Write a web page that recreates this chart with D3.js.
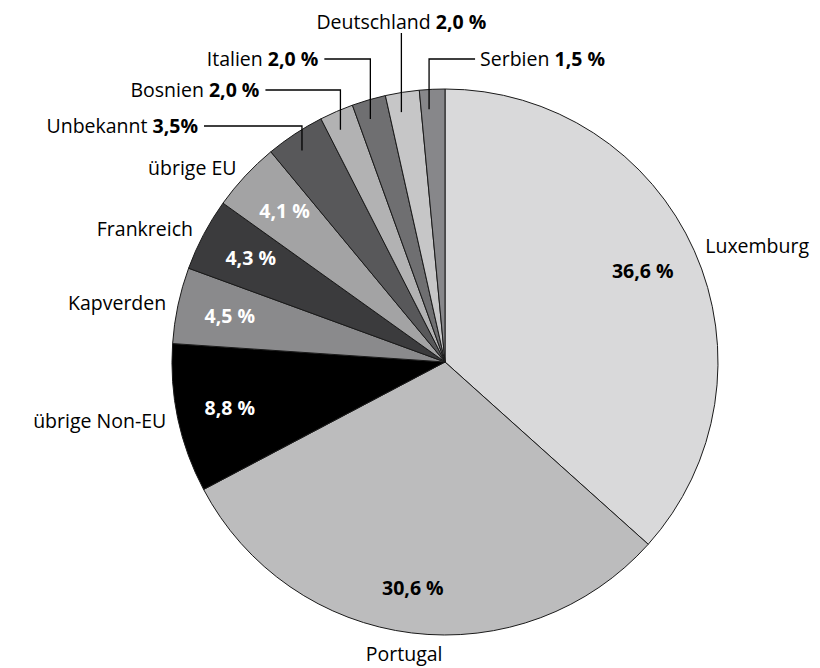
<!DOCTYPE html>
<html>
<head>
<meta charset="utf-8">
<script src="https://cdn.jsdelivr.net/npm/d3@7"></script>
<style>
  body { margin: 0; background: #fff; }
  text { font-family: "Open Sans", Lato, sans-serif; }
</style>
</head>
<body>
<div class="vis-pie"></div>
<script>
// data
const categories = ['Luxemburg', 'Portugal', 'übrige Non-EU', 'Kapverden', 'Frankreich',
    'übrige EU', 'Unbekannt', 'Bosnien', 'Italien', 'Deutschland', 'Serbien'];
const shares = [36.6, 30.6, 8.8, 4.5, 4.3, 4.1, 3.5, 2.0, 2.0, 2.0, 1.5];
const shareLabels = ['36,6 %', '30,6 %', '8,8 %', '4,5 %', '4,3 %', '4,1 %', '3,5%', '2,0 %', '2,0 %', '2,0 %', '1,5 %'];
const fills = ['#d9d9da', '#bcbcbd', '#000000', '#8a8a8c', '#3b3b3d', '#a3a3a4',
    '#58585a', '#b2b2b3', '#6f6f71', '#c6c6c7', '#87878a'];

const width = 820, height = 668;
const cx = 445, cy = 362, radius = 273;
const fontSize = '19.5px';

const svg = d3.select('.vis-pie')
    .append('svg')
    .attr('width', width)
    .attr('height', height);

const g = svg.append('g')
    .attr('transform', 'translate(' + cx + ',' + cy + ')');

const dataset = categories.map((c, i) => ({ label: c, value: shares[i], text: shareLabels[i], fill: fills[i] }));

const pie = d3.pie()
    .value(d => d.value)
    .sort(null);

const arc = d3.arc()
    .innerRadius(0)
    .outerRadius(radius);

const arcs = pie(dataset);

g.selectAll('path')
    .data(arcs)
    .enter()
    .append('path')
    .attr('d', arc)
    .attr('fill', d => d.data.fill)
    .attr('stroke', '#1a1a1a')
    .attr('stroke-width', 1);

const mid = d => (d.startAngle + d.endAngle) / 2;
const pt = (a, r) => [Math.sin(a) * r, -Math.cos(a) * r];
const isBottom = d => Math.abs(mid(d) - Math.PI) < 0.3;

// big slices: value inside, name outside
const big = arcs.slice(0, 6);
const inner = 222, outer = radius + 12;

g.selectAll('.val')
    .data(big)
    .enter().append('text')
    .attr('class', 'val')
    .attr('x', d => pt(mid(d), inner)[0] + (mid(d) < Math.PI + 0.3 ? -5 : 2))
    .attr('y', d => pt(mid(d), inner)[1] + (isBottom(d) ? 6 : 0))
    .attr('dy', '0.35em')
    .attr('text-anchor', 'middle')
    .style('font-size', fontSize)
    .style('font-weight', 'bold')
    .attr('fill', (d, i) => i < 2 ? '#000' : '#fff')
    .text(d => d.data.text);

g.selectAll('.name')
    .data(big)
    .enter().append('text')
    .attr('class', 'name')
    .attr('x', d => pt(mid(d), outer)[0] - (isBottom(d) ? 6 : 0))
    .attr('y', d => pt(mid(d), outer)[1])
    .attr('dy', d => isBottom(d) ? '0.85em' : '0.35em')
    .attr('text-anchor', d => isBottom(d) ? 'middle' : (mid(d) < Math.PI ? 'start' : 'end'))
    .style('font-size', fontSize)
    .text(d => d.data.label);

// small slices: callout lines
const callouts = [
    { elbow: -236, len: 98, side: 'left' },   // Unbekannt
    { elbow: -272, len: 75, side: 'left' },   // Bosnien
    { elbow: -303, len: 46, side: 'left' },   // Italien
    { elbow: -329, len: 0, side: 'top' },     // Deutschland
    { elbow: -303, len: 46, side: 'right' }   // Serbien
];
const small = arcs.slice(6).map((d, i) => Object.assign({}, d, callouts[i]));
const lineR = radius - 20;
const anchor = d => { const p = pt(mid(d), lineR); return [p[0] - 4, p[1]]; };

const cg = g.selectAll('.callout')
    .data(small)
    .enter().append('g')
    .attr('class', 'callout');

cg.append('polyline')
    .attr('fill', 'none')
    .attr('stroke', '#000')
    .attr('stroke-width', 1.3)
    .attr('points', d => {
        const p = anchor(d);
        const dir = d.side === 'left' ? -1 : 1;
        return [p, [p[0], d.elbow], [p[0] + dir * d.len, d.elbow]].map(q => q.join(',')).join(' ');
    });

const ct = cg.append('text')
    .attr('x', d => {
        const p = anchor(d);
        if (d.side === 'left') return p[0] - d.len - 6;
        if (d.side === 'right') return p[0] + d.len + 5;
        return p[0];
    })
    .attr('y', d => d.side === 'top' ? d.elbow - 4 : d.elbow)
    .attr('dy', d => d.side === 'top' ? 0 : '0.35em')
    .attr('text-anchor', d => d.side === 'left' ? 'end' : (d.side === 'right' ? 'start' : 'middle'))
    .style('font-size', fontSize);

ct.append('tspan').text(d => d.data.label + ' ');
ct.append('tspan').style('font-weight', 'bold').text(d => d.data.text);
</script>
</body>
</html>
